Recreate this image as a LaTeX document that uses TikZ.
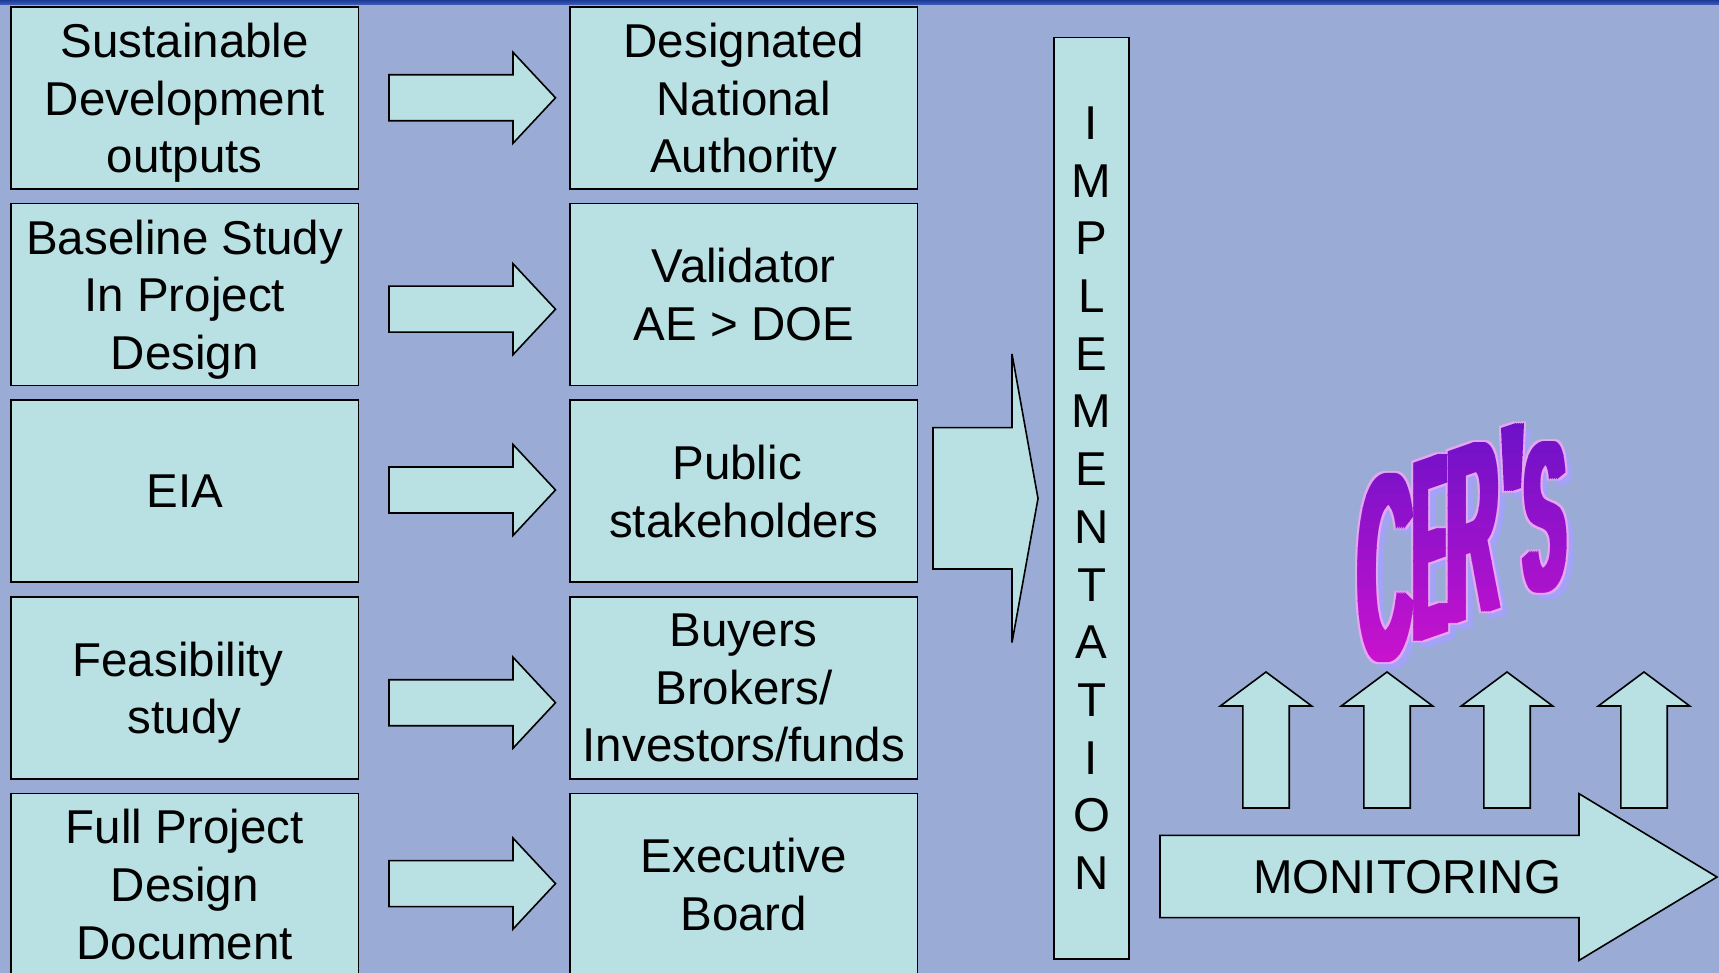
\documentclass[tikz,border=0pt]{standalone}
\usepackage{fontspec}
\usepackage{graphicx}
\setmainfont{Liberation Sans}
\newfontfamily\cerfont{Liberation Sans Bold}
\definecolor{bg}{HTML}{9AACD5}
\definecolor{boxfill}{HTML}{B9E0E3}
\definecolor{ctop}{HTML}{6A12C8}
\definecolor{cbot}{HTML}{CE12CE}
\definecolor{cshadow}{HTML}{A2A2F6}
\definecolor{cline}{HTML}{E6A6F2}
\definecolor{bandA}{HTML}{1A3A96}
\definecolor{bandB}{HTML}{4060B8}
\tikzset{
  box/.style={draw=black, line width=1.6pt, fill=boxfill, minimum width=347.5pt,
    minimum height=182pt, inner sep=0pt, align=center, text depth=0pt,
    font=\fontsize{47.5}{57.7}\selectfont},
  blk/.style={draw=black, line width=1.6pt, fill=boxfill, line join=miter},
  cerl/.style={inner sep=0pt, outer sep=0pt, yslant=0.35, anchor=center, font=\cerfont},
}
\newcommand\cerglyphs[3]{%
  \node[cerl,text=#1] (cerC) at ({1385+#2},{569+#3}) {\resizebox*{54pt}{188pt}{C}};
  \node[cerl,text=#1] (cerE) at ({1430+#2},{548+#3}) {\resizebox*{32pt}{178pt}{E}};
  \node[cerl,text=#1] (cerR) at ({1473+#2},{531+#3}) {\resizebox*{51pt}{172pt}{R}};
  \node[cerl,text=#1] (cerS) at ({1545+#2},{517+#3}) {\resizebox*{41pt}{150pt}{S}};
  \fill[#1] ({1505+#2},{428+#3}) -- ({1520+#2},{423+#3}) -- ({1517+#2},{488+#3}) -- ({1508+#2},{491+#3}) -- cycle;
}
\begin{document}
\begin{tikzpicture}[x=1pt,y=-1pt]
\fill[bg] (0,0) rectangle (1719,973);
\shade[top color=bandA, bottom color=bandB] (0,0) rectangle (1719,5);
\useasboundingbox (0,0) rectangle (1719,973);

% left column
\node[box] (sd) at (184.75,98) {Sustainable\\Development\\outputs};
\node[box] (bs) at (184.75,294.6) {Baseline Study\\In Project\\Design};
\node[box] (eia) at (184.75,491.2) {EIA};
\node[box] (fs) at (184.75,687.8) {Feasibility\kern0.28em\\study};
\node[box] (fp) at (184.75,884.4) {Full Project\\Design\\Document};
% middle column
\node[box] (dna) at (743.8,98) {Designated\\National\\Authority};
\node[box] (val) at (743.8,294.6) {Validator\\AE > DOE};
\node[box] (pub) at (743.8,491.2) {Public\kern0.28em\\stakeholders};
\node[box] (buy) at (743.8,687.8) {Buyers\\Brokers/\\Investors/funds};
\node[box] (eb) at (743.8,884.4) {Executive\\Board};

% small block arrows
\foreach \c in {97.8,309.2,490,702.7,883.6} {
  \draw[blk] (389,{\c-23}) -- (513,{\c-23}) -- (513,{\c-45.5}) -- (555.5,\c)
    -- (513,{\c+45.5}) -- (513,{\c+23}) -- (389,{\c+23}) -- cycle;
}

% big arrow into implementation
\draw[blk] (933,427.6) -- (1012,427.6) -- (1012,354) -- (1038,498.5)
  -- (1012,642.5) -- (1012,569) -- (933,569) -- cycle;

% implementation
\node[draw=black, line width=1.6pt, fill=boxfill, minimum width=75pt,
  minimum height=921.7pt, inner sep=0pt, align=center,
  font=\fontsize{47.5}{57.7}\selectfont] (impl) at (1091.5,498.2)
  {I\\M\\P\\L\\E\\M\\E\\N\\T\\A\\T\\I\\O\\N};

% monitoring arrow
\draw[blk] (1160,835.4) -- (1579,835.4) -- (1579,793.7) -- (1717,877)
  -- (1579,960.4) -- (1579,917.6) -- (1160,917.6) -- cycle;
\node[font=\fontsize{47.5}{57.7}\selectfont, inner sep=0pt] (mon) at (1407,877) {MONITORING};

% up arrows
\foreach \c in {1266,1387,1507,1644} {
  \draw[blk] ({\c-23.2},808) -- ({\c-23.2},706) -- ({\c-45.7},706) -- (\c,672)
    -- ({\c+45.7},706) -- ({\c+23.2},706) -- ({\c+23.2},808) -- cycle;
}

% CER'S word art
\foreach \dx in {-4,-2,0,2,4} {\cerglyphs{cshadow}{\dx+7}{7}}
\foreach \dx in {-6,-3,0,3,6} {\foreach \dy in {-2,2} {\cerglyphs{cline}{\dx}{\dy}}}
\foreach \i in {0,...,19} {
  \pgfmathsetmacro\ya{415+\i*13.25}
  \pgfmathsetmacro\yb{\ya+13.75}
  \pgfmathtruncatemacro\pc{round(\i*100/19)}
  \begin{scope}
    \clip (1330,\ya) rectangle (1610,\yb);
    \foreach \dx in {-4,-2,0,2,4} {\cerglyphs{cbot!\pc!ctop}{\dx}{0}}
  \end{scope}
}
\end{tikzpicture}
\end{document}
